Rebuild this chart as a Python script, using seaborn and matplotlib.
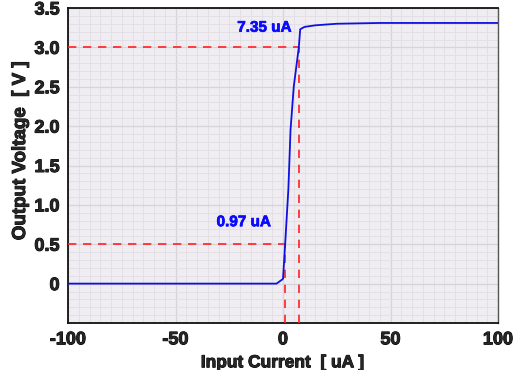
import matplotlib
matplotlib.use("Agg")
import matplotlib.pyplot as plt
import matplotlib.patheffects as pe
import seaborn as sns
import numpy as np
import pandas as pd
from matplotlib.ticker import MultipleLocator

# Data
current_uA = [-100, -5, -3, 0, 1, 2.5, 3.5, 5, 7.35, 8, 10, 15, 25, 45, 100]
voltage_V = [0.0, 0.0, 0.0, 0.06, 0.5, 1.2, 1.95, 2.5, 3.0, 3.23, 3.26, 3.28, 3.3, 3.31, 3.31]
marker_x = [0.97, 7.35]
marker_y = [0.5, 3.0]
marker_labels = ["0.97 uA", "7.35 uA"]
label_pos_x = [-5.6, 4.0]
label_pos_y = [0.78, 3.25]
yticks = [0, 0.5, 1.0, 1.5, 2.0, 2.5, 3.0, 3.5]
ytick_labels = ["0", "0.5", "1.0", "1.5", "2.0", "2.5", "3.0", "3.5"]
xticks = [-100, -50, 0, 50, 100]
xtick_labels = ["-100", "-50", "0", "50", "100"]

sns.set_style("white")
plt.rcParams['font.family'] = ['Liberation Sans', 'DejaVu Sans']

fig = plt.figure(figsize=(5.21, 3.70), dpi=100)
ax = fig.add_axes([68/521, 1-323/370, (498-68)/521, (323-8)/370])
ax.set_facecolor("#efedf1")

df = pd.DataFrame({"x": current_uA, "y": voltage_V})

heavy_k = [pe.withStroke(linewidth=0.7, foreground="black")]

# Reference dashed lines
for mx, my in zip(marker_x, marker_y):
    ax.plot([-100, mx], [my, my], color="#ff2020", ls=(0, (5, 4)), lw=1.2, zorder=3)
    ax.plot([mx, mx], [-0.5, my], color="#ff2020", ls=(0, (5, 4)), lw=1.2, zorder=3)

sns.lineplot(data=df, x="x", y="y", ax=ax, color="#1010e0", lw=1.3, zorder=4, sort=False)

for t, lx, ly in zip(marker_labels, label_pos_x, label_pos_y):
    ax.text(lx, ly, t, color="#0a0aff", fontsize=11, fontweight="bold",
            ha="right", va="center", zorder=5,
            path_effects=[pe.withStroke(linewidth=0.5, foreground="#0a0aff")])

ax.set_xlim(-100, 100)
ax.set_ylim(-0.5, 3.5)
ax.set_xticks(xticks)
ax.set_xticklabels(xtick_labels)
ax.set_yticks(yticks)
ax.set_yticklabels(ytick_labels)
ax.xaxis.set_minor_locator(MultipleLocator(5))
ax.yaxis.set_minor_locator(MultipleLocator(0.1))
ax.grid(which="major", color="#d6d4d8", lw=0.9)
ax.grid(which="minor", color="#e2e0e4", lw=0.7)
ax.set_axisbelow(True)
ax.tick_params(which="both", length=0)
ax.tick_params(axis="y", pad=6)
ax.tick_params(axis="x", pad=6)
for lab in ax.get_xticklabels() + ax.get_yticklabels():
    lab.set_fontsize(13)
    lab.set_fontweight("bold")
    lab.set_path_effects(heavy_k)

ax.set_xlabel("Input Current  [ uA ]", fontsize=12.5, fontweight="bold", labelpad=5,
              path_effects=heavy_k)
ax.set_ylabel("Output Voltage  [ V ]", fontsize=13.5, fontweight="bold",
              path_effects=heavy_k)
ax.yaxis.set_label_coords((29 - 68) / 430, (323 - 151) / 315)

for s in ax.spines.values():
    s.set_visible(True)
    s.set_color("#111111")
    s.set_linewidth(1.3)
ax.spines["right"].set_color("#555555")
ax.spines["right"].set_linewidth(1.0)

fig.savefig("out.png", dpi=100)
